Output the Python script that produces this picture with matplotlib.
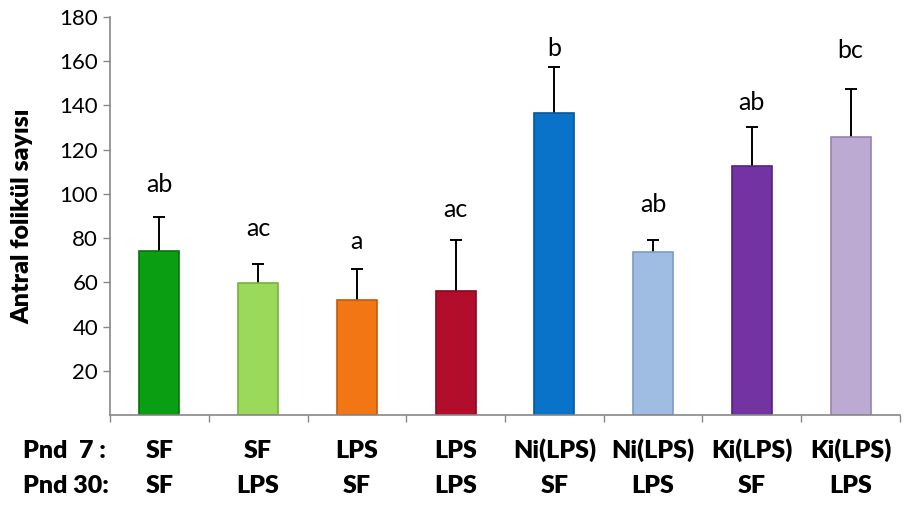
import matplotlib.pyplot as plt
import numpy as np

pnd7 = ["SF", "SF", "LPS", "LPS", "Ni(LPS)", "Ni(LPS)", "Ki(LPS)", "Ki(LPS)"]
pnd30 = ["SF", "LPS", "SF", "LPS", "SF", "LPS", "SF", "LPS"]
means = [74.3, 59.9, 52.2, 56.0, 136.8, 73.9, 112.8, 125.9]
errs = [15.4, 8.4, 13.7, 23.0, 20.8, 5.3, 17.4, 21.7]
letters = ["ab", "ac", "a", "ac", "b", "ab", "ab", "bc"]
letter_y = [101, 81, 75, 89.5, 162.5, 92, 138, 161.5]
colors = ["#0a9e12", "#9bd95a", "#f27613", "#b20e2c", "#0873c9", "#9fbde2", "#7433a2", "#bcaad3"]
edges = ["#06750c", "#78b03c", "#c45a08", "#850820", "#05579a", "#7a9cc4", "#562080", "#9684ae"]

plt.rcParams['font.family'] = ['Lato', 'DejaVu Sans']

fig = plt.figure(figsize=(9.08, 5.05), dpi=100)
ax = fig.add_axes([110/908, 90/505, 790/908, 398/505])

x = np.arange(len(means))
ax.bar(x, means, width=0.405, color=colors, edgecolor=edges, linewidth=1.2, zorder=2)
# only the upper half of the error bar, no cap at the bar top
_, caps, _ = ax.errorbar(x, means, yerr=[np.zeros(len(errs)), errs], fmt="none", ecolor="black",
                         elinewidth=1.4, capsize=4.5, capthick=1.4, zorder=1)
caps[0].set_visible(False)

for xi, lab, ly in zip(x, letters, letter_y):
    ax.text(xi, ly, lab, ha="center", va="baseline", fontsize=18)

ax.set_xlim(-0.5, 7.5)
ax.set_ylim(0, 180)
ax.set_yticks(np.arange(20, 181, 20))
ax.tick_params(axis="y", labelsize=16, color="#888888", length=5, width=1)
ax.set_xticks(np.arange(-0.5, 8, 1))
ax.set_xticklabels([])
ax.tick_params(axis="x", color="#888888", length=5, width=1)
for s in ["top", "right"]:
    ax.spines[s].set_visible(False)
for s in ["left", "bottom"]:
    ax.spines[s].set_color("#888888")
    ax.spines[s].set_linewidth(1.2)

trans = ax.get_xaxis_transform()
for xi, a, b in zip(x, pnd7, pnd30):
    ax.text(xi, -0.108, a, transform=trans, ha="center", va="baseline", fontsize=18, fontweight="heavy")
    ax.text(xi, -0.196, b, transform=trans, ha="center", va="baseline", fontsize=18, fontweight="heavy")
fig.text(23/908, (505-458)/505, "Pnd  7 :", ha="left", va="baseline", fontsize=18, fontweight="heavy")
fig.text(23/908, (505-493)/505, "Pnd 30:", ha="left", va="baseline", fontsize=18, fontweight="heavy")

fig.text(22/908, (505-216)/505, "Antral folikül sayısı", rotation=90, ha="center", va="center",
         fontsize=18, fontweight="heavy")

fig.savefig("out.png", dpi=100)
